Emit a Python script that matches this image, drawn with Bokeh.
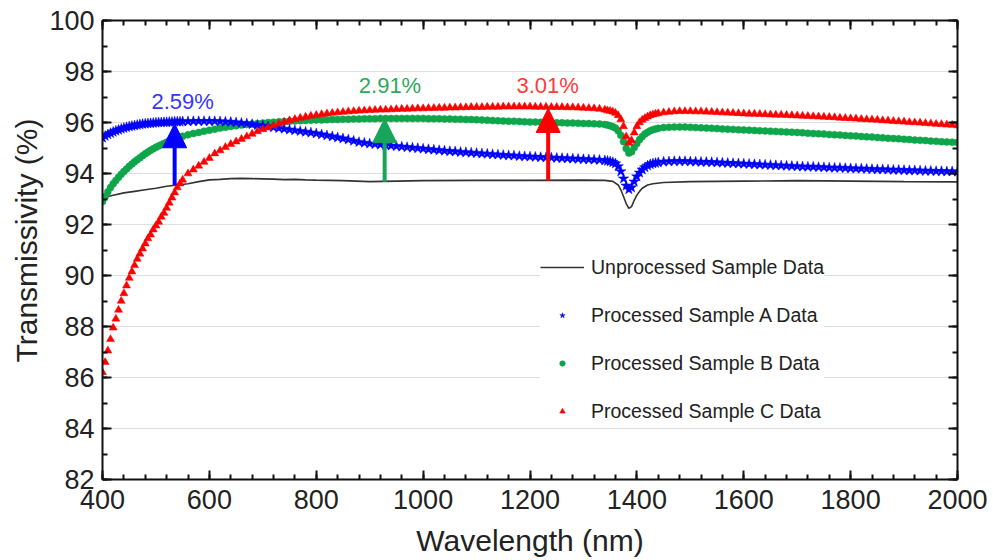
from bokeh.plotting import figure
from bokeh.models import (LinearAxis, SingleIntervalTicker, Legend, LegendItem,
                          Arrow, NormalHead, ColumnDataSource, Title,
                          CustomJSTickFormatter)
from bokeh.core.properties import value
from bokeh.embed import file_html
from bokeh.resources import INLINE

# ---------------- data ----------------
# wavelength sampling grid of the processed samples (nm)
wavelength = (list(range(400, 550, 5)) + list(range(550, 1340, 10))
              + list(range(1340, 1440, 5)) + list(range(1440, 2001, 10)))

sample_a = [
    95.4, 95.47, 95.53, 95.58, 95.63, 95.67, 95.71, 95.75, 95.78, 95.81,
    95.84, 95.86, 95.88, 95.9, 95.92, 95.94, 95.95, 95.96, 95.97, 95.98,
    95.99, 96.0, 96.0, 96.01, 96.01, 96.02, 96.02, 96.03, 96.03, 96.03,
    96.04, 96.04, 96.05, 96.05, 96.05, 96.05, 96.05, 96.04, 96.03, 96.02,
    96.0, 95.98, 95.96, 95.93, 95.9, 95.87, 95.84, 95.81, 95.78, 95.75,
    95.72, 95.69, 95.66, 95.63, 95.6, 95.57, 95.53, 95.49, 95.45, 95.41,
    95.37, 95.33, 95.28, 95.23, 95.2, 95.17, 95.15, 95.13, 95.11, 95.09,
    95.07, 95.05, 95.03, 95.01, 94.99, 94.97, 94.95, 94.93, 94.91, 94.89,
    94.87, 94.86, 94.84, 94.83, 94.81, 94.8, 94.78, 94.77, 94.75, 94.74,
    94.72, 94.71, 94.7, 94.68, 94.67, 94.66, 94.65, 94.64, 94.63, 94.62,
    94.61, 94.6, 94.59, 94.58, 94.57, 94.56, 94.55, 94.54, 94.53,
    94.51, 94.49, 94.47, 94.44, 94.39, 94.28, 94.08, 93.8, 93.52, 93.38,
    93.45, 93.68, 93.88, 94.03, 94.15, 94.24, 94.31, 94.36, 94.39, 94.41,
    94.43, 94.46, 94.47, 94.48, 94.48, 94.48, 94.47, 94.46, 94.45, 94.45,
    94.44, 94.43, 94.42, 94.41, 94.4, 94.39, 94.38, 94.37, 94.36, 94.35,
    94.34, 94.33, 94.32, 94.31, 94.3, 94.29, 94.28, 94.27, 94.26, 94.26,
    94.25, 94.24, 94.23, 94.22, 94.22, 94.21, 94.2, 94.19, 94.19, 94.18,
    94.17, 94.16, 94.16, 94.15, 94.14, 94.14, 94.13, 94.12, 94.12, 94.11,
    94.1, 94.1, 94.09, 94.09, 94.08, 94.08, 94.07,
]

sample_b = [
    92.9, 93.1, 93.28, 93.45, 93.6, 93.73, 93.85, 93.97, 94.08, 94.18,
    94.28, 94.37, 94.46, 94.54, 94.62, 94.7, 94.77, 94.84, 94.91, 94.97,
    95.03, 95.08, 95.13, 95.18, 95.23, 95.27, 95.31, 95.35, 95.39, 95.43,
    95.46, 95.52, 95.57, 95.61, 95.66, 95.7, 95.74, 95.78, 95.81, 95.84,
    95.87, 95.9, 95.92, 95.94, 95.96, 95.98, 96.0, 96.01, 96.03, 96.04,
    96.05, 96.06, 96.07, 96.08, 96.09, 96.1, 96.1, 96.11, 96.12, 96.12,
    96.13, 96.13, 96.14, 96.14, 96.15, 96.15, 96.15, 96.16, 96.16, 96.16,
    96.16, 96.16, 96.16, 96.16, 96.16, 96.16, 96.15, 96.15, 96.15, 96.14,
    96.14, 96.13, 96.13, 96.12, 96.12, 96.11, 96.1, 96.09, 96.08, 96.07,
    96.06, 96.05, 96.05, 96.04, 96.03, 96.02, 96.02, 96.01, 96.0, 96.0,
    95.99, 95.99, 95.98, 95.98, 95.97, 95.96, 95.96, 95.95, 95.94,
    95.92, 95.9, 95.87, 95.83, 95.78, 95.68, 95.5, 95.25, 94.98, 94.8,
    94.85, 95.02, 95.18, 95.33, 95.45, 95.55, 95.62, 95.68, 95.72, 95.75,
    95.77, 95.8, 95.81, 95.82, 95.82, 95.82, 95.81, 95.8, 95.79, 95.78,
    95.77, 95.76, 95.75, 95.74, 95.73, 95.72, 95.71, 95.7, 95.69, 95.68,
    95.67, 95.66, 95.65, 95.64, 95.63, 95.62, 95.61, 95.6, 95.58, 95.57,
    95.56, 95.55, 95.53, 95.52, 95.51, 95.49, 95.48, 95.47, 95.45, 95.44,
    95.43, 95.41, 95.4, 95.38, 95.37, 95.36, 95.34, 95.33, 95.31, 95.3,
    95.29, 95.27, 95.26, 95.25, 95.24, 95.23, 95.22,
]

sample_c = [
    86.2, 86.6, 87.05, 87.5, 87.95, 88.3, 88.65, 89.0, 89.3, 89.6,
    89.9, 90.15, 90.4, 90.65, 90.85, 91.05, 91.25, 91.45, 91.6, 91.8,
    91.95, 92.1, 92.3, 92.45, 92.65, 92.85, 93.05, 93.25, 93.45, 93.6,
    93.75, 94.0, 94.15, 94.3, 94.45, 94.6, 94.78, 94.9, 95.03, 95.15,
    95.25, 95.35, 95.45, 95.55, 95.65, 95.73, 95.8, 95.88, 95.95, 96.02,
    96.08, 96.13, 96.18, 96.22, 96.26, 96.29, 96.32, 96.35, 96.37, 96.39,
    96.41, 96.43, 96.44, 96.46, 96.47, 96.48, 96.49, 96.5, 96.5, 96.51,
    96.52, 96.53, 96.53, 96.54, 96.55, 96.55, 96.56, 96.56, 96.57, 96.57,
    96.58, 96.58, 96.59, 96.59, 96.6, 96.6, 96.6, 96.61, 96.61, 96.61,
    96.62, 96.62, 96.62, 96.62, 96.62, 96.62, 96.61, 96.61, 96.61, 96.6,
    96.6, 96.6, 96.59, 96.59, 96.58, 96.57, 96.56, 96.55, 96.53,
    96.5, 96.47, 96.45, 96.42, 96.37, 96.28, 96.12, 95.85, 95.45, 95.2,
    95.3, 95.6, 95.85, 96.0, 96.1, 96.17, 96.23, 96.28, 96.31, 96.34,
    96.36, 96.39, 96.41, 96.43, 96.44, 96.44, 96.44, 96.43, 96.43, 96.42,
    96.41, 96.4, 96.39, 96.38, 96.37, 96.36, 96.35, 96.34, 96.34, 96.33,
    96.32, 96.31, 96.3, 96.3, 96.29, 96.28, 96.27, 96.26, 96.25, 96.24,
    96.23, 96.22, 96.21, 96.2, 96.18, 96.17, 96.16, 96.15, 96.13, 96.12,
    96.11, 96.1, 96.08, 96.07, 96.05, 96.04, 96.03, 96.01, 96.0, 95.99,
    95.97, 95.96, 95.94, 95.93, 95.91, 95.9, 95.88,
]

# unprocessed sample (continuous line)
wavelength_u = [400, 420, 440, 460, 480, 500, 520, 540, 560, 580, 600, 620, 640,
                660, 680, 700, 720, 740, 760, 780, 800, 850, 900, 950, 1000, 1100,
                1200, 1300, 1340, 1355, 1365, 1370, 1375, 1380, 1385, 1390, 1395,
                1400, 1405, 1410, 1420, 1430, 1450, 1500, 1600, 1700, 1800, 1900, 2000]
unprocessed = [93.05, 93.15, 93.24, 93.3, 93.36, 93.42, 93.5, 93.55, 93.6, 93.68,
               93.75, 93.77, 93.8, 93.81, 93.8, 93.79, 93.78, 93.76, 93.77, 93.75,
               93.74, 93.72, 93.68, 93.7, 93.72, 93.73, 93.73, 93.74, 93.73, 93.69,
               93.55, 93.36, 93.1, 92.82, 92.63, 92.7, 92.95, 93.15, 93.3, 93.42,
               93.55, 93.6, 93.65, 93.68, 93.7, 93.72, 93.7, 93.68, 93.67]

# improvement annotations
arrow_x = [535, 928, 1234]
arrow_from = [93.55, 93.68, 93.73]
arrow_to = [95.95, 96.15, 96.55]
gain_text = ["2.59%", "2.91%", "3.01%"]
gain_x = [550, 938, 1233]
gain_y = [96.82, 97.45, 97.45]

series_names = ["Unprocessed Sample Data", "Processed Sample A Data",
                "Processed Sample B Data", "Processed Sample C Data"]
x_title = "Wavelength (nm)"
y_title = "Transmissivity (%)"

# ---------------- styling ----------------
FONT = "Liberation Sans"
BLUE = "#0000ff"
GREEN = "#0ea64b"
RED = "#ff0000"
BLACK = "#333333"
INK = "#111111"
label_colors = ["#3535ff", "#2aaa5c", "#ff3b3b"]
arrow_colors = ["#0000ff", "#18a558", "#ff0000"]

p = figure(width=993, height=560, x_range=(400, 2000), y_range=(82, 100),
           output_backend="svg", toolbar_location=None,
           min_border_left=102, min_border_right=36,
           min_border_top=20, min_border_bottom=81)
p.background_fill_color = "white"
p.outline_line_color = None

xt = SingleIntervalTicker(interval=200, num_minor_ticks=5)
yt = SingleIntervalTicker(interval=2, num_minor_ticks=2)

p.xaxis.ticker = xt
p.yaxis.ticker = yt
p.xgrid.visible = False
p.ygrid.ticker = yt
p.ygrid.grid_line_color = "#dedede"
p.ygrid.grid_line_width = 1

for ax in (p.xaxis[0], p.yaxis[0]):
    ax.axis_line_width = 2
    ax.axis_line_color = INK
    ax.major_tick_in = 9
    ax.major_tick_out = 0
    ax.minor_tick_in = 5
    ax.minor_tick_out = 0
    ax.major_tick_line_width = 2
    ax.minor_tick_line_width = 2
    ax.major_tick_line_color = INK
    ax.minor_tick_line_color = INK
    ax.major_label_text_font = FONT
    ax.major_label_text_font_size = "27px"
    ax.major_label_text_color = "#222222"

p.xaxis.axis_label = x_title
p.xaxis.axis_label_text_font = FONT
p.xaxis.axis_label_text_font_size = "30px"
p.xaxis.axis_label_text_font_style = "normal"
p.xaxis.axis_label_text_color = "#222222"
p.xaxis.major_label_standoff = 10
p.xaxis.axis_label_standoff = 12
p.yaxis.major_label_standoff = 8

blank = CustomJSTickFormatter(code="return ''")
for loc, tk in (("above", xt), ("right", yt)):
    ax = LinearAxis(ticker=tk, formatter=blank,
                    major_label_standoff=0, axis_line_width=2,
                    axis_line_color=INK,
                    major_tick_in=9, major_tick_out=0,
                    minor_tick_in=5, minor_tick_out=0,
                    major_tick_line_width=2, minor_tick_line_width=2,
                    major_tick_line_color=INK, minor_tick_line_color=INK)
    p.add_layout(ax, loc)

# y-axis title, placed a little above the frame centre as in the reference
p.add_layout(Title(text=y_title, align="left", offset=117, standoff=8,
                   text_font=FONT, text_font_size="30px",
                   text_font_style="normal", text_color="#222222"), "left")

src = ColumnDataSource(dict(x=wavelength, a=sample_a, b=sample_b, c=sample_c))

r_u = p.line(wavelength_u, unprocessed, line_color=BLACK, line_width=1.6)
r_b = p.scatter("x", "b", source=src, marker="circle", size=7,
                fill_color=GREEN, line_color=GREEN, line_width=0.5)
r_a = p.scatter("x", "a", source=src, marker="star", size=11,
                fill_color=BLUE, line_color=BLUE, line_width=0.5)
r_c = p.scatter("x", "c", source=src, marker="triangle", size=8,
                fill_color=RED, line_color=RED, line_width=0.5)

for i in range(3):
    col = arrow_colors[i]
    p.add_layout(Arrow(end=NormalHead(size=24, fill_color=col, line_color=col, line_width=1),
                       x_start=arrow_x[i], y_start=arrow_from[i],
                       x_end=arrow_x[i], y_end=arrow_to[i],
                       line_color=col, line_width=4))

lab_src = ColumnDataSource(dict(x=gain_x, y=gain_y, t=gain_text, c=label_colors))
p.text("x", "y", text="t", source=lab_src, text_color="c",
       text_font=value(FONT), text_font_size="22px",
       text_align="center", text_baseline="middle")

legend = Legend(items=[LegendItem(label=series_names[0], renderers=[r_u]),
                       LegendItem(label=series_names[1], renderers=[r_a]),
                       LegendItem(label=series_names[2], renderers=[r_b]),
                       LegendItem(label=series_names[3], renderers=[r_c])],
                location=(438, 56), orientation="vertical",
                background_fill_color="white", background_fill_alpha=1.0,
                border_line_color=None, padding=10, spacing=24, margin=0,
                glyph_width=44, glyph_height=14, label_height=24,
                label_standoff=7, label_text_font=FONT,
                label_text_font_size="19.5px", label_text_color="#222222")
p.add_layout(legend)

open("out.html", "w").write(file_html(p, INLINE))
